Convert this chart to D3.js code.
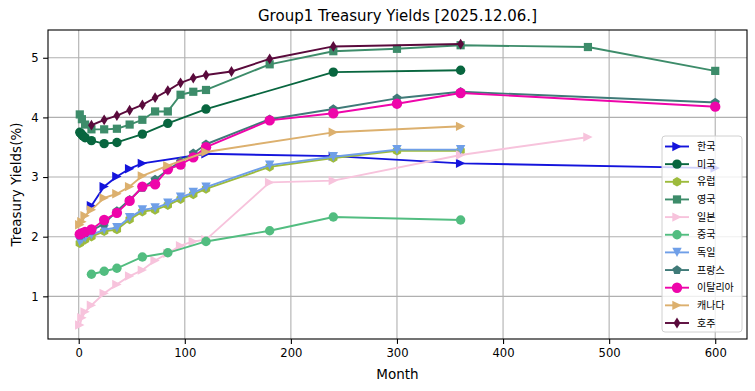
<!DOCTYPE html>
<html>
<head>
<meta charset="utf-8">
<script src="https://cdn.jsdelivr.net/npm/d3@7"></script>
<style>
  html, body { margin: 0; padding: 0; background: #fff; }
  svg { display: block; }
  text { font-family: "DejaVu Sans", sans-serif; }
</style>
</head>
<body>
<svg id="chart" width="755" height="391"></svg>
<script>
// ---- data (months, yields %) ----
const titleText = "Group1 Treasury Yields [2025.12.06.]";
const xLabel = "Month";
const yLabel = "Treasury Yields(%)";
const xTicks = [0, 100, 200, 300, 400, 500, 600];
const yTicks = [1, 2, 3, 4, 5];

const seriesNames = ["한국", "미국", "유럽", "영국", "일본", "중국", "독일", "프랑스", "이탈리아", "캐나다", "호주"];

const krMonths = [12, 24, 36, 48, 60, 120, 240, 360, 600];
const krYields = [2.52, 2.84, 3.01, 3.14, 3.23, 3.39, 3.35, 3.23, 3.15];

const usMonths = [1, 2, 3, 4, 6, 12, 24, 36, 60, 84, 120, 240, 360];
const usYields = [3.75, 3.73, 3.71, 3.69, 3.66, 3.61, 3.56, 3.58, 3.72, 3.90, 4.14, 4.76, 4.79];

const euMonths = [1, 3, 6, 12, 24, 36, 48, 60, 72, 84, 96, 108, 120, 180, 240, 300, 360];
const euYields = [1.89, 1.92, 1.95, 2.00, 2.09, 2.12, 2.29, 2.42, 2.45, 2.53, 2.63, 2.71, 2.80, 3.17, 3.32, 3.44, 3.44];

const ukMonths = [1, 3, 6, 12, 24, 36, 48, 60, 72, 84, 96, 108, 120, 180, 240, 300, 360, 480, 600];
const ukYields = [4.05, 3.97, 3.88, 3.80, 3.80, 3.81, 3.88, 3.96, 4.10, 4.10, 4.38, 4.43, 4.46, 4.89, 5.11, 5.15, 5.21, 5.18, 4.78];

const jpMonths = [1, 3, 6, 12, 24, 36, 48, 60, 72, 84, 96, 108, 120, 180, 240, 360, 480];
const jpYields = [0.52, 0.64, 0.74, 0.85, 1.05, 1.20, 1.34, 1.44, 1.60, 1.72, 1.85, 1.92, 1.95, 2.91, 2.94, 3.37, 3.67];

const cnMonths = [12, 24, 36, 60, 84, 120, 180, 240, 360];
const cnYields = [1.37, 1.42, 1.47, 1.66, 1.73, 1.92, 2.10, 2.33, 2.28];

const deMonths = [1, 3, 6, 12, 24, 36, 48, 60, 72, 84, 96, 108, 120, 180, 240, 300, 360];
const deYields = [1.92, 1.95, 1.98, 2.03, 2.12, 2.15, 2.32, 2.45, 2.48, 2.56, 2.66, 2.74, 2.83, 3.20, 3.34, 3.46, 3.46];

const frMonths = [1, 3, 6, 12, 24, 36, 48, 60, 72, 84, 96, 108, 120, 180, 240, 300, 360, 600];
const frYields = [2.02, 2.04, 2.06, 2.10, 2.22, 2.43, 2.62, 2.82, 2.96, 3.12, 3.26, 3.40, 3.55, 3.97, 4.14, 4.32, 4.43, 4.25];

const itMonths = [1, 3, 6, 12, 24, 36, 48, 60, 72, 84, 96, 108, 120, 180, 240, 300, 360, 600];
const itYields = [2.04, 2.06, 2.08, 2.12, 2.28, 2.40, 2.60, 2.84, 2.88, 3.13, 3.21, 3.33, 3.50, 3.95, 4.07, 4.23, 4.41, 4.18];

const caMonths = [1, 3, 6, 12, 24, 36, 48, 60, 84, 120, 240, 360];
const caYields = [2.20, 2.25, 2.35, 2.45, 2.65, 2.72, 2.84, 3.02, 3.19, 3.42, 3.75, 3.85];

const auMonths = [12, 24, 36, 48, 60, 72, 84, 96, 108, 120, 144, 180, 240, 360];
const auYields = [3.87, 3.96, 4.03, 4.12, 4.21, 4.33, 4.45, 4.58, 4.66, 4.71, 4.77, 4.98, 5.19, 5.23];

// ---- styles ----
const colors = ["#1414dc", "#08663f", "#9dbb3c", "#3d8c6a", "#f7c3dc", "#52bd80", "#6f9fe8", "#3f7a78", "#ee05aa", "#dcb06e", "#5a0a3c"];
const markers = ["tri-right", "circle", "hexagon", "square", "tri-right", "circle", "tri-down", "pentagon", "circle-big", "tri-right", "thin-diamond"];

const allMonths = [krMonths, usMonths, euMonths, ukMonths, jpMonths, cnMonths, deMonths, frMonths, itMonths, caMonths, auMonths];
const allYields = [krYields, usYields, euYields, ukYields, jpYields, cnYields, deYields, frYields, itYields, caYields, auYields];

const series = seriesNames.map((name, i) => ({
  name, color: colors[i], marker: markers[i],
  points: allMonths[i].map((m, j) => ({ m, v: allYields[i][j] }))
}));

// ---- layout ----
const svg = d3.select("#chart");
const pLeft = 48, pRight = 747, pTop = 30, pBottom = 339;

const xs = allMonths.flat(), ys = allYields.flat();
const [xmin, xmax] = d3.extent(xs), [ymin, ymax] = d3.extent(ys);
const xm = (xmax - xmin) * 0.05, ym = (ymax - ymin) * 0.05;
const x = d3.scaleLinear().domain([xmin - xm, xmax + xm]).range([pLeft, pRight]);
const y = d3.scaleLinear().domain([ymin - ym, ymax + ym]).range([pBottom, pTop]);

function markerPath(type) {
  const r = 4.7;
  switch (type) {
    case "tri-right": return `M${r},0L${-r},${r}L${-r},${-r}Z`;
    case "tri-down": return `M0,${r}L${-r},${-r}L${r},${-r}Z`;
    case "square": { const s = 4.1; return `M${-s},${-s}H${s}V${s}H${-s}Z`; }
    case "circle": return d3.arc()({ innerRadius: 0, outerRadius: 4.7, startAngle: 0, endAngle: 2 * Math.PI });
    case "circle-big": return d3.arc()({ innerRadius: 0, outerRadius: 5.2, startAngle: 0, endAngle: 2 * Math.PI });
    case "thin-diamond": return `M0,${-5.4}L3.4,0L0,5.4L-3.4,0Z`;
    case "pentagon": {
      const p = d3.range(5).map(k => { const a = -Math.PI / 2 + k * 2 * Math.PI / 5; return [4.8 * Math.cos(a), 4.8 * Math.sin(a)]; });
      return "M" + p.map(q => q.join(",")).join("L") + "Z";
    }
    case "hexagon": {
      const p = d3.range(6).map(k => { const a = -Math.PI / 2 + k * Math.PI / 3; return [4.8 * Math.cos(a), 4.8 * Math.sin(a)]; });
      return "M" + p.map(q => q.join(",")).join("L") + "Z";
    }
  }
}

// grid
const g = svg.append("g");
g.selectAll(".gx").data(xTicks).enter().append("line")
  .attr("x1", d => x(d)).attr("x2", d => x(d)).attr("y1", pTop).attr("y2", pBottom)
  .attr("stroke", "#b0b0b0").attr("stroke-width", 1.1);
g.selectAll(".gy").data(yTicks).enter().append("line")
  .attr("y1", d => y(d)).attr("y2", d => y(d)).attr("x1", pLeft).attr("x2", pRight)
  .attr("stroke", "#b0b0b0").attr("stroke-width", 1.1);

// clip
svg.append("clipPath").attr("id", "clip").append("rect")
  .attr("x", pLeft).attr("y", pTop).attr("width", pRight - pLeft).attr("height", pBottom - pTop);

const line = d3.line().x(d => x(d.m)).y(d => y(d.v));
const plot = svg.append("g").attr("clip-path", "url(#clip)");
series.forEach(s => {
  const sg = plot.append("g");
  sg.append("path").datum(s.points).attr("d", line)
    .attr("fill", "none").attr("stroke", s.color).attr("stroke-width", 1.9)
    .attr("stroke-linejoin", "round").attr("stroke-linecap", "square");
  sg.selectAll("path.mk").data(s.points).enter().append("path").attr("class", "mk")
    .attr("d", markerPath(s.marker))
    .attr("transform", d => `translate(${x(d.m)},${y(d.v)})`)
    .attr("fill", s.color);
});

// axes
const xAxis = d3.axisBottom(x).tickValues(xTicks).tickSize(4.9).tickPadding(4.5);
const yAxis = d3.axisLeft(y).tickValues(yTicks).tickFormat(d3.format("d")).tickSize(4.9).tickPadding(4.5);
const gx = svg.append("g").attr("transform", `translate(0,${pBottom})`).call(xAxis);
const gy = svg.append("g").attr("transform", `translate(${pLeft},0)`).call(yAxis);
[gx, gy].forEach(a => {
  a.select(".domain").remove();
  a.selectAll(".tick line").attr("stroke", "#000").attr("stroke-width", 1.1);
  a.selectAll(".tick text").attr("fill", "#000").style("font-size", "11.6px").style("font-family", "DejaVu Sans");
});

// frame
svg.append("rect").attr("x", pLeft).attr("y", pTop).attr("width", pRight - pLeft).attr("height", pBottom - pTop)
  .attr("fill", "none").attr("stroke", "#000").attr("stroke-width", 1.1);

// title and labels
svg.append("text").attr("x", (pLeft + pRight) / 2).attr("y", 21).attr("text-anchor", "middle")
  .style("font-size", "15px").text(titleText);
svg.append("text").attr("x", (pLeft + pRight) / 2).attr("y", 379).attr("text-anchor", "middle")
  .style("font-size", "13.5px").text(xLabel);
svg.append("text").attr("transform", `translate(21,${(pTop + pBottom) / 2}) rotate(-90)`).attr("text-anchor", "middle")
  .style("font-size", "13.5px").text(yLabel);

// legend
const lg = svg.append("g");
const lx = 662, ly = 136, lw = 80, lh = 196, rowH = 17.65, row0 = 146.5;
lg.append("rect").attr("x", lx).attr("y", ly).attr("width", lw).attr("height", lh).attr("rx", 3)
  .attr("fill", "#fff").attr("fill-opacity", 0.8).attr("stroke", "#d0d0d0").attr("stroke-width", 1);
series.forEach((s, i) => {
  const cy = row0 + i * rowH;
  lg.append("line").attr("x1", 665).attr("x2", 689).attr("y1", cy).attr("y2", cy)
    .attr("stroke", s.color).attr("stroke-width", 1.9);
  lg.append("path").attr("d", markerPath(s.marker)).attr("transform", `translate(677,${cy})`).attr("fill", s.color);
  lg.append("text").attr("x", 697).attr("y", cy).attr("dy", "0.36em")
    .style("font-family", "'Noto Sans CJK KR', sans-serif").style("font-size", "10px").attr("fill", "#000").text(s.name);
});
</script>
</body>
</html>
